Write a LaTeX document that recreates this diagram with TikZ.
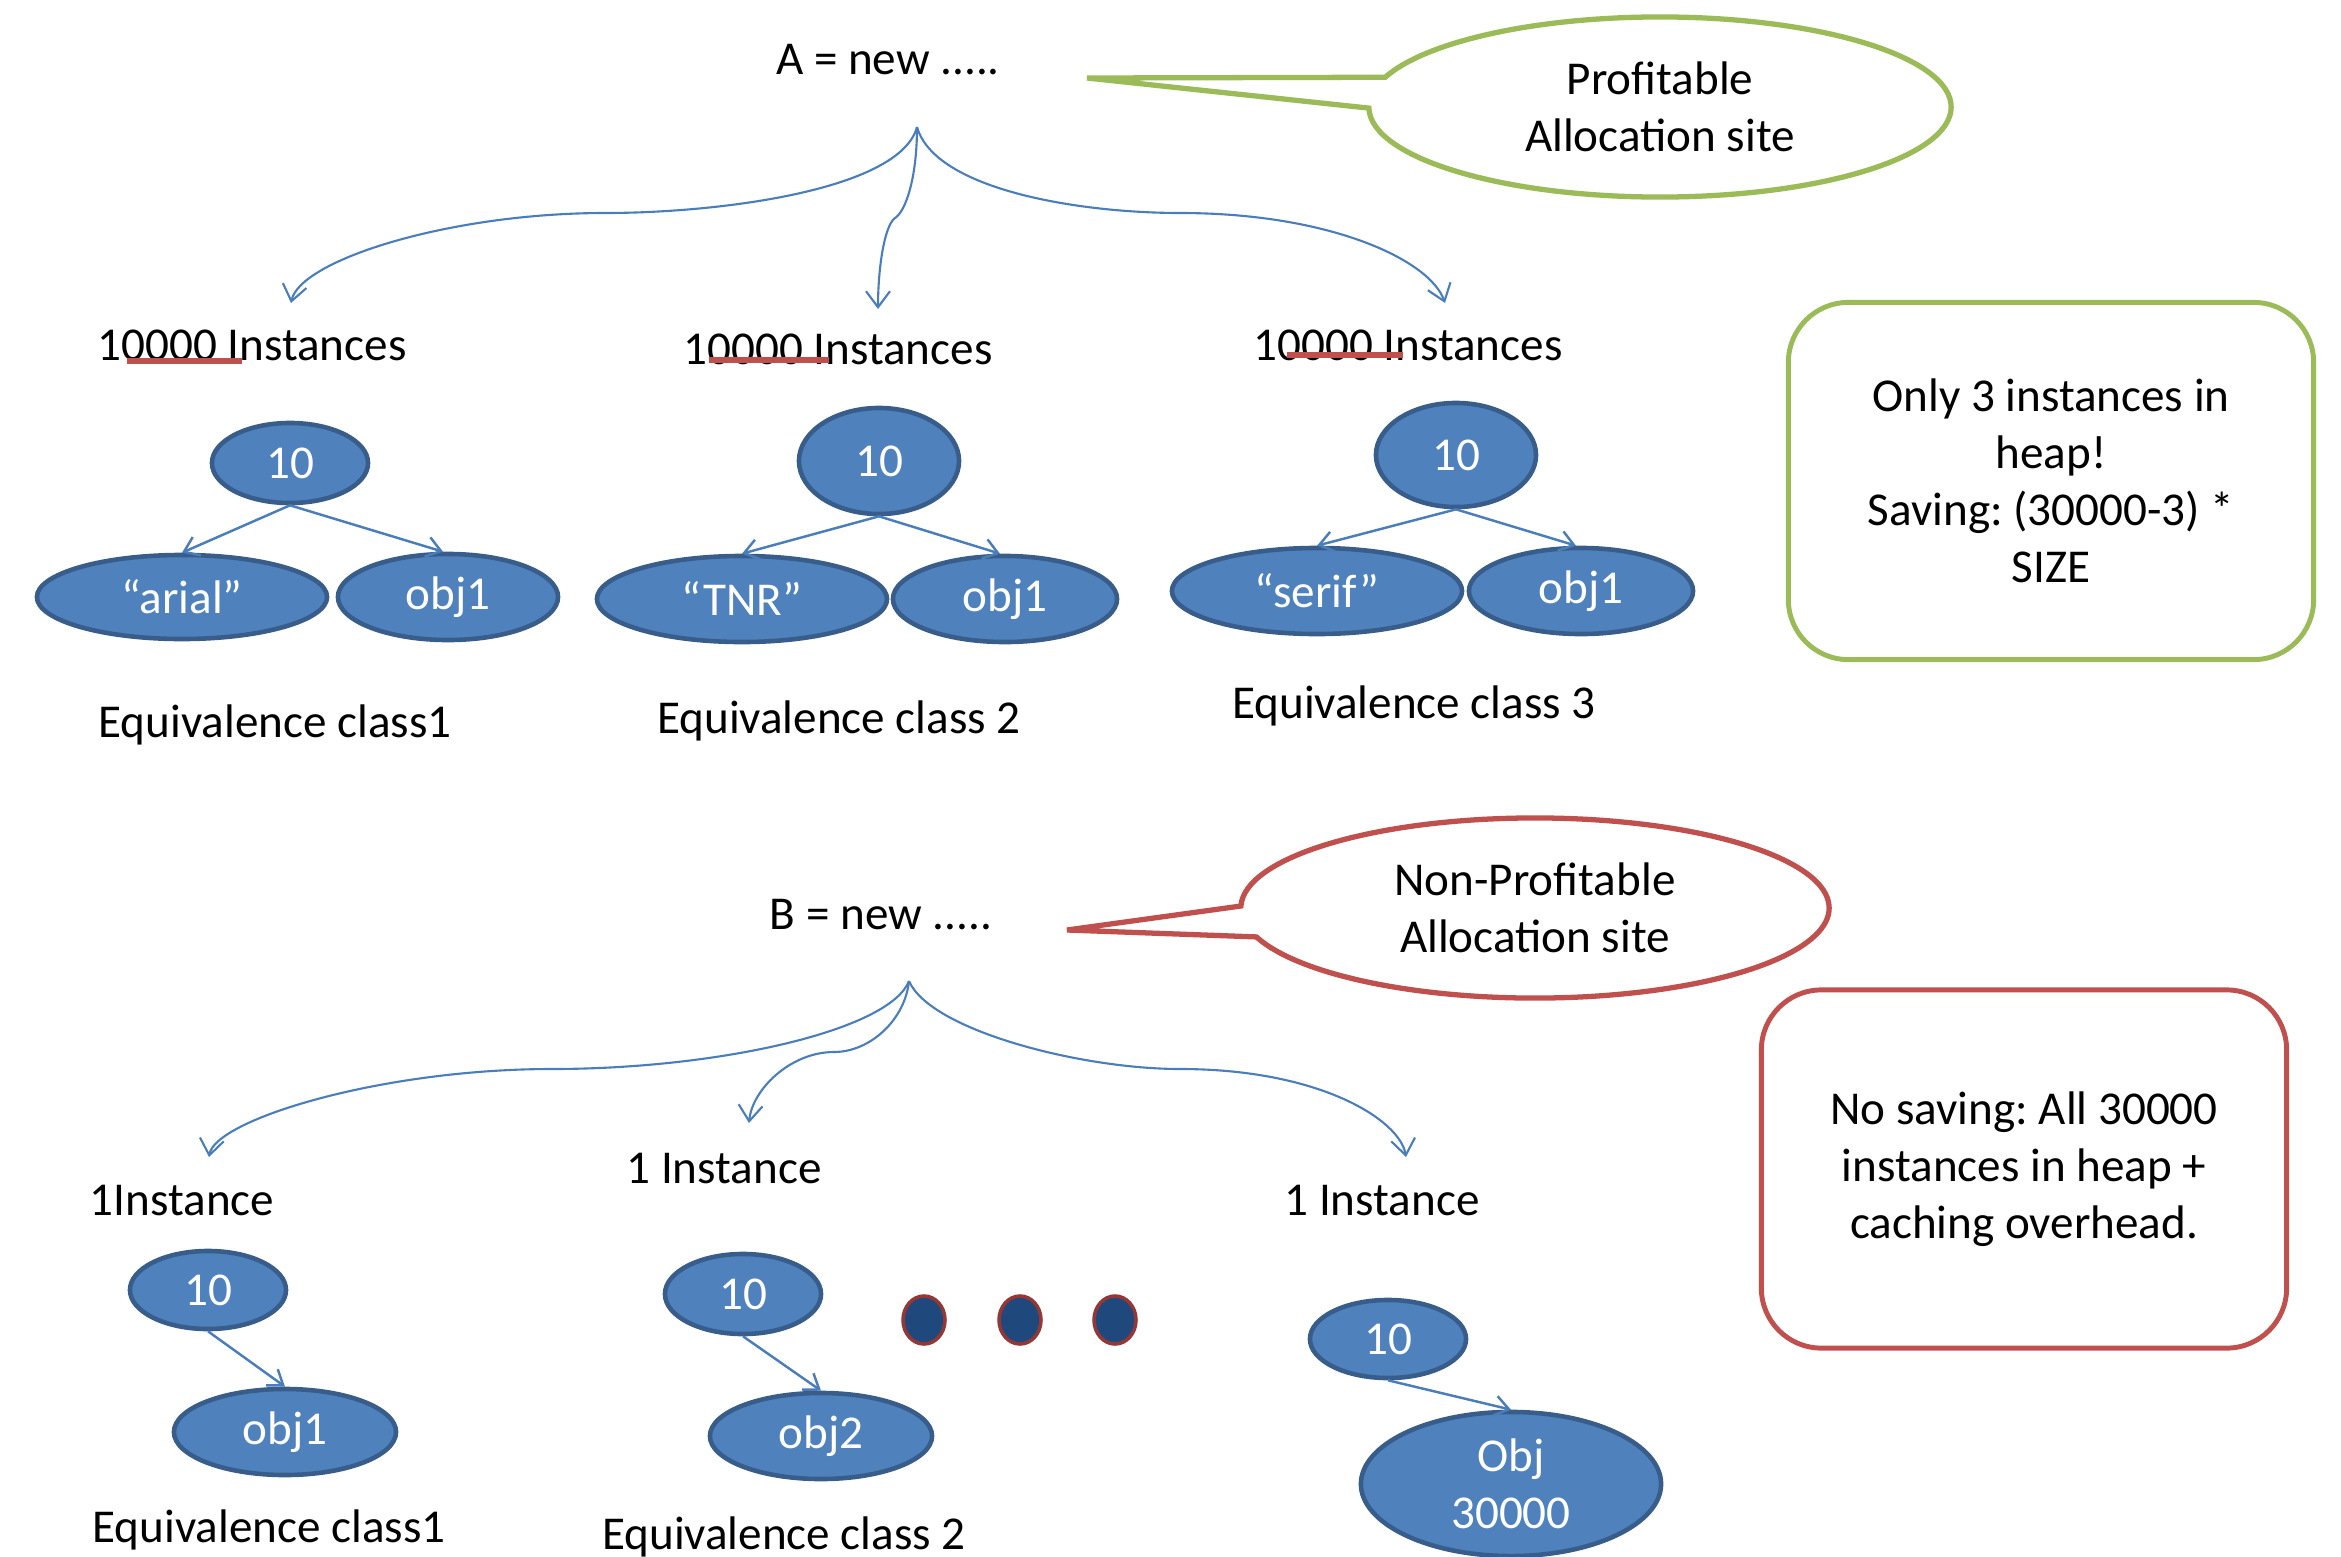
\documentclass[tikz,border=0pt]{standalone}
\usepackage{fontspec}
\setmainfont{Carlito}
\frenchspacing
\usetikzlibrary{arrows.meta, shapes.geometric, shapes.callouts}
\definecolor{objFill}{RGB}{79,129,189}
\definecolor{objEdge}{RGB}{56,93,138}
\definecolor{linkBlue}{RGB}{74,126,187}
\definecolor{goodGreen}{RGB}{155,187,89}
\definecolor{badRed}{RGB}{192,80,77}
\definecolor{dotFill}{RGB}{31,73,125}
\definecolor{dotEdge}{RGB}{149,55,53}

\begin{document}
\begin{tikzpicture}[x=0.01cm, y=-0.01cm,
    every node/.style={font=\fontsize{13.4}{16.2}\selectfont},
    objnode/.style={ellipse, draw=objEdge, line width=1.3pt, fill=objFill, text=white, inner sep=0pt, align=center},
    txt/.style={inner sep=0pt, align=center},
    tree/.style={linkBlue, line width=0.6pt, -{Straight Barb[length=1.6mm, width=2.4mm]}},
    link/.style={linkBlue, line width=0.7pt, -{Straight Barb[length=1.4mm, width=2mm]}},
    site/.style={ellipse callout, draw, line width=1.5pt, fill=white, inner sep=0pt, align=center, callout pointer arc=20},
    note/.style={rectangle, rounded corners=0.6cm, draw, line width=1.4pt, align=center, inner sep=0pt},
    spell/.style={badRed, line width=1.7pt},
    hdot/.style={ellipse, fill=dotFill, draw=dotEdge, line width=1pt, minimum width=0.42cm, minimum height=0.48cm, inner sep=0pt},
]
\useasboundingbox (0,0) rectangle (2341,1557);

% ========== TOP: profitable site A ==========
\node[txt] at (888,60) (anew) {A = new .....};
\coordinate (tipA) at (1087,78);
\node[site, draw=goodGreen, minimum width=5.82cm, minimum height=1.8cm, callout absolute pointer={(tipA)}] at (1660,107) (siteA) {Profitable\\Allocation site};

\coordinate (rootA) at (917,127);
\coordinate (endA1) at (291,303);
\coordinate (endA2) at (878,309);
\coordinate (endA3) at (1445,303);
\draw[tree] (rootA) .. controls (900,190) and (720,213) .. (605,213) .. controls (450,213) and (300,260) .. (endA1);
\draw[tree] (rootA) .. controls (917,180) and (905,212) .. (895,218) .. controls (884,226) and (878,270) .. (endA2);
\draw[tree] (rootA) .. controls (935,190) and (1080,213) .. (1180,213) .. controls (1330,213) and (1430,260) .. (endA3);

\node[txt] at (252,345) (instA1) {10000 Instances};
\node[txt] at (838,349) (instA2) {10000 Instances};
\node[txt] at (1408,345) (instA3) {10000 Instances};
\draw[spell] (127,361) -- (242,361);
\draw[spell] (709,360) -- (829,360);
\draw[spell] (1287,355) -- (1403,355);

% class 1
\node[objnode, minimum width=1.56cm, minimum height=0.8cm] at (290,463) (tenA1) {10};
\node[objnode, minimum width=2.9cm, minimum height=0.84cm] at (182,597) (arial) {“arial”};
\node[objnode, minimum width=2.2cm, minimum height=0.86cm] at (448,597) (objA1) {obj1};
\draw[link] (tenA1.south) -- (arial.north);
\draw[link] (tenA1.south) -- ([xshift=-0.05cm]objA1.north);
\node[txt] at (275,725) (eqA1) {Equivalence class1};

% class 2
\node[objnode, minimum width=1.6cm, minimum height=1.06cm] at (879,461) (tenA2) {10};
\node[objnode, minimum width=2.9cm, minimum height=0.86cm] at (742,599) (tnr) {“TNR”};
\node[objnode, minimum width=2.24cm, minimum height=0.86cm] at (1005,599) (objA2) {obj1};
\draw[link] (tenA2.south) -- (tnr.north);
\draw[link] (tenA2.south) -- ([xshift=-0.05cm]objA2.north);
\node[txt] at (839,721) (eqA2) {Equivalence class 2};

% class 3
\node[objnode, minimum width=1.6cm, minimum height=1.04cm] at (1456,455) (tenA3) {10};
\node[objnode, minimum width=2.9cm, minimum height=0.86cm] at (1317,591) (serif) {“serif”};
\node[objnode, minimum width=2.24cm, minimum height=0.86cm] at (1581,591) (objA3) {obj1};
\draw[link] (tenA3.south) -- (serif.north);
\draw[link] (tenA3.south) -- ([xshift=-0.05cm]objA3.north);
\node[txt] at (1414,706) (eqA3) {Equivalence class 3};

\node[note, draw=goodGreen, minimum width=5.25cm, minimum height=3.57cm] at (2051,481) (noteA) {Only 3 instances in\\heap!\\Saving: (30000-3) *\\SIZE};

% ========== BOTTOM: non-profitable site B ==========
\node[txt] at (881,915) (bnew) {B = new .....};
\coordinate (tipB) at (1067,930);
\node[site, draw=badRed, minimum width=5.88cm, minimum height=1.8cm, callout absolute pointer={(tipB)}] at (1535,908) (siteB) {Non-Profitable\\Allocation site};

\coordinate (rootB) at (909,981);
\coordinate (endB1) at (209,1157);
\coordinate (endB2) at (749,1123);
\coordinate (endB3) at (1406,1157);
\draw[tree] (rootB) .. controls (890,1030) and (720,1069) .. (552,1069) .. controls (380,1069) and (215,1120) .. (endB1);
\draw[tree] (rootB) .. controls (905,1020) and (870,1052) .. (834,1052) .. controls (790,1052) and (752,1090) .. (endB2);
\draw[tree] (rootB) .. controls (930,1030) and (1080,1069) .. (1180,1069) .. controls (1320,1069) and (1400,1120) .. (endB3);

\node[txt] at (182,1200) (instB1) {1Instance};
\node[txt] at (724,1168) (instB2) {1 Instance};
\node[txt] at (1382,1200) (instB3) {1 Instance};

\node[objnode, minimum width=1.56cm, minimum height=0.78cm] at (208,1290) (tenB1) {10};
\node[objnode, minimum width=2.22cm, minimum height=0.86cm] at (285,1432) (objB1) {obj1};
\draw[link] (tenB1.south) -- (objB1.north);
\node[txt] at (269,1530) (eqB1) {Equivalence class1};

\node[objnode, minimum width=1.56cm, minimum height=0.8cm] at (743,1294) (tenB2) {10};
\node[objnode, minimum width=2.22cm, minimum height=0.86cm] at (821,1436) (objB2) {obj2};
\draw[link] (tenB2.south) -- (objB2.north);
\node[txt] at (784,1537) (eqB2) {Equivalence class 2};

\node[hdot] at (924,1320) (dot1) {};
\node[hdot] at (1020,1320) (dot2) {};
\node[hdot] at (1115,1320) (dot3) {};

\node[objnode, minimum width=1.56cm, minimum height=0.78cm] at (1388,1339) (tenB3) {10};
\node[objnode, minimum width=3cm, minimum height=1.44cm] at (1511,1484) (objB3) {Obj\\30000};
\draw[link] (tenB3.south) -- (objB3.north);

\node[note, draw=badRed, minimum width=5.25cm, minimum height=3.58cm] at (2024,1169) (noteB) {No saving: All 30000\\instances in heap +\\caching overhead.};

\end{tikzpicture}
\end{document}
